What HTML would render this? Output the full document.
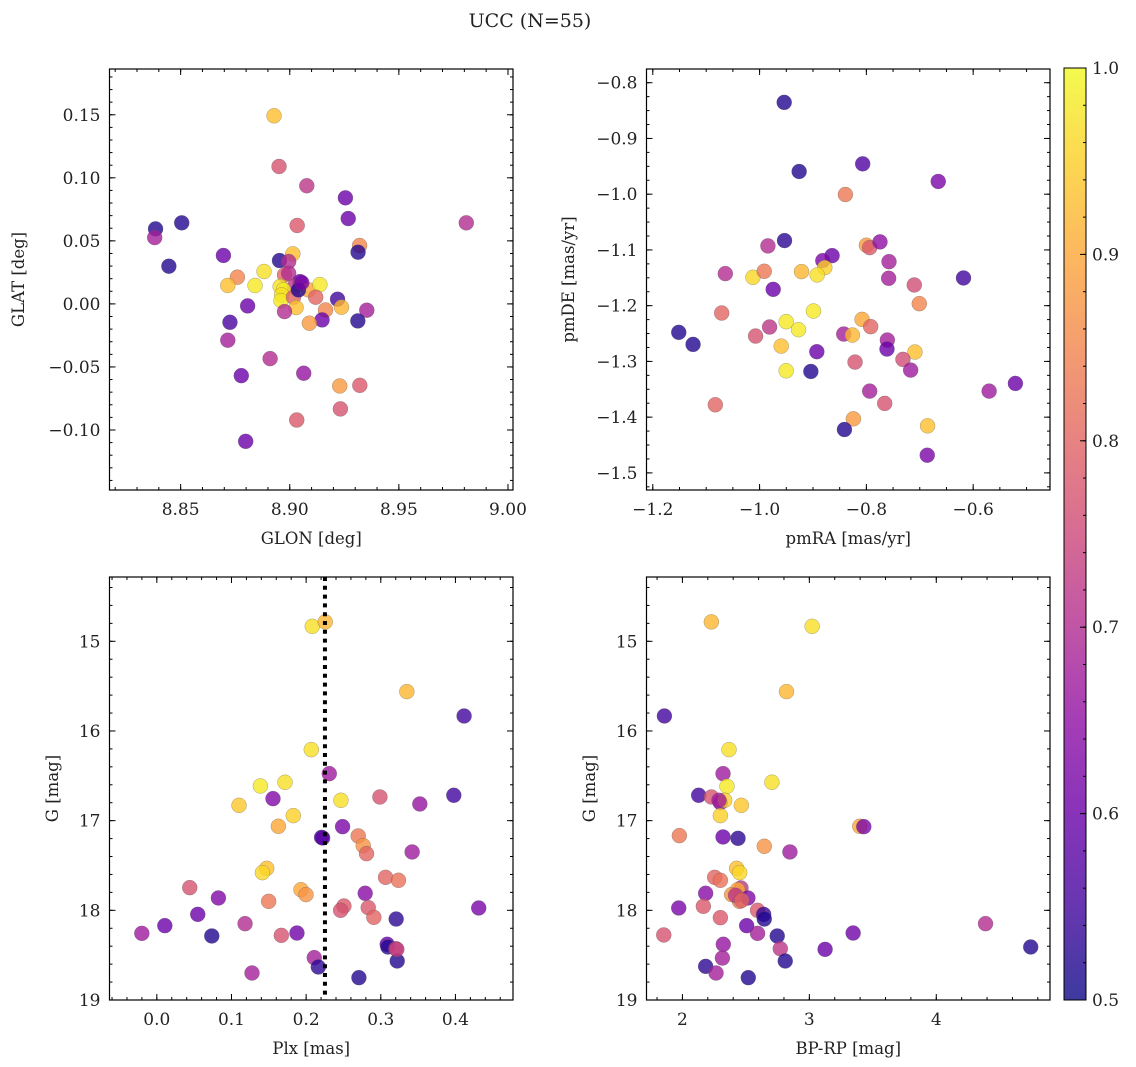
<!DOCTYPE html>
<html><head><meta charset="utf-8"><style>
html,body{margin:0;padding:0;background:#fff}
svg{display:block}
text{font-family:"DejaVu Serif","Liberation Serif",serif;fill:#222}
</style></head><body>
<svg id="fig" width="1136" height="1067" viewBox="0 0 1136 1067" xmlns="http://www.w3.org/2000/svg">
<defs>
<linearGradient id="plasmaGrad" x1="0" y1="1" x2="0" y2="0">
<stop offset="0" stop-color="#0d0887"/><stop offset="0.1" stop-color="#41049d"/><stop offset="0.2" stop-color="#6a00a8"/><stop offset="0.3" stop-color="#8f0da4"/><stop offset="0.4" stop-color="#b12a90"/><stop offset="0.5" stop-color="#cc4778"/><stop offset="0.6" stop-color="#e16462"/><stop offset="0.7" stop-color="#f2844b"/><stop offset="0.8" stop-color="#fca636"/><stop offset="0.9" stop-color="#fcce25"/><stop offset="1" stop-color="#f0f921"/>
</linearGradient>
</defs>
<text x="530" y="27" font-size="19" text-anchor="middle">UCC (N=55)</text>
</svg>
<script>
const glon=[8.8928,8.8951,8.9078,8.9255,8.9268,8.9809,8.8385,8.8505,8.8381,8.9034,8.8446,8.8696,8.8760,8.8716,8.8841,8.8882,8.9014,8.9320,8.9313,8.8953,8.8995,8.8976,8.8995,8.9047,8.9021,8.8956,8.8971,8.8963,8.8960,8.9017,8.9086,8.9138,8.9119,8.9219,8.9237,8.9029,8.9164,8.8976,8.9353,8.9148,8.9090,8.9312,8.8807,8.8726,8.8716,8.8910,8.8778,8.9064,8.9229,8.9321,8.9232,8.9032,8.8798,8.9040,8.9055];
const glat=[0.1492,0.1090,0.0937,0.0841,0.0677,0.0643,0.0595,0.0643,0.0526,0.0622,0.0299,0.0384,0.0212,0.0146,0.0146,0.0257,0.0397,0.0463,0.0410,0.0344,0.0336,0.0230,0.0243,0.0177,0.0138,0.0138,0.0111,0.0071,0.0026,0.0053,0.0111,0.0153,0.0053,0.0037,-0.0026,-0.0029,-0.0048,-0.0061,-0.0050,-0.0127,-0.0153,-0.0135,-0.0016,-0.0146,-0.0288,-0.0434,-0.0569,-0.0550,-0.0651,-0.0646,-0.0833,-0.0921,-0.1090,0.0111,0.0169];
const prob1=[0.93,0.77,0.72,0.6,0.6,0.7,0.52,0.52,0.68,0.78,0.52,0.6,0.85,0.93,0.98,0.97,0.93,0.85,0.52,0.52,0.7,0.8,0.7,0.6,0.72,0.97,0.98,0.97,0.98,0.8,0.9,0.98,0.8,0.55,0.92,0.93,0.85,0.7,0.68,0.6,0.88,0.52,0.6,0.56,0.68,0.7,0.6,0.66,0.88,0.78,0.77,0.78,0.6,0.52,0.62];

const pmra=[-0.9539,-0.9259,-0.8069,-0.6654,-0.8393,-0.9533,-0.9844,-0.8000,-0.7938,-0.7745,-0.8642,-0.8816,-0.8779,-0.7576,-1.0642,-1.0125,-0.9913,-0.9215,-0.8922,-0.7583,-0.6181,-0.9745,-0.7103,-0.7009,-1.0710,-0.8991,-0.9502,-0.9271,-0.8081,-0.7919,-0.9813,-1.0075,-0.8424,-0.8262,-1.1514,-1.1246,-0.9595,-0.8928,-0.7607,-0.7614,-0.7090,-0.7315,-0.8212,-0.7171,-0.9502,-0.9040,-0.5701,-0.5209,-0.7938,-0.7657,-1.0829,-0.8243,-0.8411,-0.6854,-0.6860];
const pmde=[-0.8353,-0.9593,-0.9455,-0.9772,-1.0006,-1.0832,-1.0928,-1.0916,-1.0958,-1.0856,-1.1102,-1.1192,-1.1317,-1.1210,-1.1425,-1.1491,-1.1383,-1.1389,-1.1449,-1.1509,-1.1503,-1.1707,-1.1629,-1.1964,-1.2132,-1.2096,-1.2287,-1.2431,-1.2246,-1.2377,-1.2383,-1.2545,-1.2509,-1.2527,-1.2479,-1.2695,-1.2725,-1.2826,-1.2617,-1.2778,-1.2832,-1.2964,-1.3012,-1.3156,-1.3168,-1.3180,-1.3533,-1.3395,-1.3533,-1.3754,-1.3778,-1.4030,-1.4222,-1.4156,-1.4683];
const prob2=[0.52,0.52,0.57,0.62,0.83,0.53,0.7,0.88,0.78,0.65,0.6,0.62,0.95,0.68,0.7,0.96,0.83,0.92,0.97,0.68,0.55,0.6,0.76,0.85,0.8,0.98,0.98,0.98,0.9,0.8,0.72,0.77,0.68,0.92,0.52,0.52,0.93,0.6,0.68,0.6,0.93,0.76,0.77,0.67,0.98,0.52,0.67,0.6,0.68,0.77,0.8,0.88,0.52,0.93,0.62];

const plx=[0.2082,0.2256,0.3349,0.4116,0.2069,0.2310,0.1387,0.1717,0.1556,0.1101,0.2466,0.2988,0.3978,0.3523,0.1828,0.1628,0.2488,0.2207,0.2221,0.2698,0.2765,0.2809,0.3420,0.1472,0.1414,0.3064,0.3237,0.0441,0.0825,0.1931,0.1998,0.1498,0.2791,0.2506,0.2462,0.2832,0.4312,0.0548,0.0107,-0.0201,0.0736,0.1182,0.1668,0.1877,0.2907,0.3206,0.3086,0.3095,0.3202,0.3220,0.2109,0.2163,0.1275,0.2707,0.3215];
const gmag3=[14.833,14.784,15.561,15.833,16.208,16.476,16.613,16.572,16.755,16.829,16.773,16.736,16.717,16.814,16.944,17.063,17.067,17.186,17.193,17.171,17.279,17.368,17.349,17.532,17.580,17.632,17.665,17.747,17.862,17.770,17.825,17.900,17.810,17.952,18.000,17.970,17.974,18.045,18.171,18.257,18.286,18.149,18.279,18.253,18.078,18.097,18.379,18.409,18.428,18.565,18.528,18.632,18.699,18.751,18.435];
const prob3=[0.97,0.92,0.92,0.55,0.97,0.67,0.98,0.97,0.63,0.94,0.97,0.77,0.55,0.66,0.95,0.9,0.62,0.55,0.58,0.83,0.87,0.8,0.67,0.93,0.96,0.8,0.82,0.77,0.63,0.9,0.87,0.83,0.64,0.78,0.77,0.78,0.62,0.6,0.6,0.67,0.52,0.7,0.77,0.61,0.8,0.53,0.6,0.52,0.72,0.52,0.68,0.53,0.68,0.52,0.74];
const plxCluster=[0.2252];

const bprp=[2.228,3.022,2.820,1.858,2.367,2.320,2.351,2.705,2.128,2.228,2.299,2.333,2.464,2.299,3.397,3.429,1.976,2.320,2.438,2.645,2.847,2.427,2.451,2.254,2.299,2.183,2.461,2.435,2.388,2.451,2.516,1.971,2.165,2.592,2.640,2.645,2.299,1.853,2.506,2.592,2.747,4.388,3.345,2.771,3.124,4.744,2.322,2.315,2.183,2.265,2.519,2.810,2.288,2.419,2.467];
const gmag4=[14.784,14.833,15.561,15.833,16.208,16.476,16.617,16.572,16.717,16.736,16.799,16.773,16.829,16.944,17.063,17.067,17.167,17.182,17.197,17.286,17.349,17.532,17.580,17.632,17.665,17.810,17.751,17.770,17.825,17.900,17.862,17.974,17.955,18.000,18.045,18.097,18.082,18.275,18.171,18.257,18.286,18.149,18.253,18.428,18.435,18.409,18.379,18.532,18.625,18.699,18.751,18.565,16.773,17.833,17.888];
const prob4=[0.92,0.97,0.92,0.55,0.97,0.67,0.98,0.97,0.55,0.77,0.63,0.95,0.94,0.95,0.9,0.62,0.83,0.6,0.53,0.87,0.67,0.93,0.96,0.8,0.82,0.64,0.72,0.9,0.87,0.83,0.63,0.62,0.78,0.78,0.54,0.52,0.78,0.77,0.6,0.68,0.52,0.7,0.61,0.72,0.6,0.52,0.66,0.68,0.53,0.68,0.52,0.52,0.68,0.72,0.8];

const cbTicks=[0.5,0.6,0.7,0.8,0.9,1.0];

const NS="http://www.w3.org/2000/svg";
const svg=document.getElementById('fig');
const stops=[[13,8,135],[65,4,157],[106,0,168],[143,13,164],[177,42,144],[204,71,120],[225,100,98],[242,132,75],[252,166,54],[252,206,37],[240,249,33]];
function plasma(t){t=Math.max(0,Math.min(1,t))*10;const i=Math.min(9,Math.floor(t)),f=t-i;const a=stops[i],b=stops[i+1];return 'rgb('+a.map((v,k)=>Math.round(v+(b[k]-v)*f)).join(',')+')';}
function el(tag,attrs,parent){const e=document.createElementNS(NS,tag);for(const k in attrs)e.setAttribute(k,attrs[k]);(parent||svg).appendChild(e);return e;}
function fmt(v,d){let s=v.toFixed(d);if(v<0)s='\u2212'+s.slice(1);return s;}
const TFS=17, LFS=16.5;

function panel(o){
  const g=el('g',{});
  
  
  const sx=v=>o.L+(v-o.x0)/(o.x1-o.x0)*(o.R-o.L);
  const sy=v=>o.B-(v-o.y0)/(o.y1-o.y0)*(o.B-o.T);
  const tg=el('g',{stroke:'#000','stroke-width':1},g);
  
  
  function xt(v,len){const x=sx(v);if(x<o.L-0.5||x>o.R+0.5)return;el('line',{x1:x,x2:x,y1:o.B,y2:o.B-len},tg);el('line',{x1:x,x2:x,y1:o.T,y2:o.T+len},tg);}
  function yt(v,len){const y=sy(v);if(y<o.T-0.5||y>o.B+0.5)return;el('line',{x1:o.L,x2:o.L+len,y1:y,y2:y},tg);el('line',{x1:o.R,x2:o.R-len,y1:y,y2:y},tg);}
  for(let v=Math.ceil(o.x0/o.xmin)*o.xmin;v<=o.x1;v+=o.xmin)xt(v,3);
  for(let v=Math.ceil(o.y0/o.ymin)*o.ymin;v<=o.y1;v+=o.ymin)yt(v,3);
  o.xticks.forEach(v=>{xt(v,6);const x=sx(v);const t=el('text',{x:x,y:o.B+25,'font-size':TFS,'text-anchor':'middle'},g);t.textContent=fmt(v,o.xd);
    
    });
  o.yticks.forEach(v=>{yt(v,6);const y=sy(v);const t=el('text',{x:o.L-9,y:y+6,'font-size':TFS,'text-anchor':'end'},g);t.textContent=fmt(v,o.yd);
    
    });
  const cp=el('clipPath',{id:o.name+'-clip'},g);el('rect',{x:o.L,y:o.T,width:o.R-o.L,height:o.B-o.T},cp);
  const pg=el('g',{'clip-path':'url(#'+o.name+'-clip)'},g);
  
  
  o.xs.forEach((xv,i)=>{
    const c=el('circle',{cx:sx(xv),cy:sy(o.ys[i]),r:7.5,fill:plasma((o.c[i]-0.5)/0.5),'fill-opacity':0.8,stroke:'#555','stroke-opacity':0.5,'stroke-width':0.5},pg);
    
    
  });
  if(o.vline){o.vline.forEach(v=>{const ln=el('line',{x1:sx(v),x2:sx(v),y1:o.T,y2:o.B,stroke:'#000','stroke-width':4,'stroke-dasharray':'4 4.8'},pg);
    
    });}
  const fr=el('rect',{x:o.L,y:o.T,width:o.R-o.L,height:o.B-o.T,fill:'none',stroke:'#000','stroke-width':1.2},g);
  
  
  const xl=el('text',{x:(o.L+o.R)/2,y:o.B+54,'font-size':LFS,'text-anchor':'middle'},g);xl.textContent=o.xlabel;
  
  
  const yx=o.ylx,yy=(o.T+o.B)/2;
  const yl=el('text',{x:yx,y:yy,'font-size':LFS,'text-anchor':'middle',transform:'rotate(-90 '+yx+' '+yy+')'},g);yl.textContent=o.ylabel;
  
  
}

panel({name:'glon-glat-panel',L:109.5,R:513,T:69,B:490,x0:8.8174,x1:9.0023,y0:-0.1476,y1:0.1863,xmin:0.01,ymin:0.01,
  xticks:[8.85,8.90,8.95,9.00],yticks:[-0.10,-0.05,0,0.05,0.10,0.15],xd:2,yd:2,xs:glon,ys:glat,c:prob1,xlabel:'GLON [deg]',ylabel:'GLAT [deg]',ylx:24});
panel({name:'pm-panel',L:646.5,R:1050,T:69,B:490,x0:-1.2118,x1:-0.4561,y0:-1.5307,y1:-0.7754,xmin:0.05,ymin:0.025,
  xticks:[-1.2,-1.0,-0.8,-0.6],yticks:[-1.5,-1.4,-1.3,-1.2,-1.1,-1.0,-0.9,-0.8],xd:1,yd:1,xs:pmra,ys:pmde,c:prob2,xlabel:'pmRA [mas/yr]',ylabel:'pmDE [mas/yr]',ylx:574});
panel({name:'plx-g-panel',L:109.5,R:513,T:577,B:1000,x0:-0.0634,x1:0.4771,y0:-19.0,y1:-14.283,xmin:0.02,ymin:0.2,
  xticks:[0,0.1,0.2,0.3,0.4],yticks:[],xd:1,yd:0,xs:plx,ys:gmag3.map(v=>-v),c:prob3,vline:plxCluster,xlabel:'Plx [mas]',ylabel:'G [mag]',ylx:58});
panel({name:'cmd-panel',L:646.5,R:1050,T:577,B:1000,x0:1.717,x1:4.896,y0:-19.0,y1:-14.283,xmin:0.2,ymin:0.2,
  xticks:[2,3,4],yticks:[],xd:0,yd:0,xs:bprp,ys:gmag4.map(v=>-v),c:prob4,xlabel:'BP-RP [mag]',ylabel:'G [mag]',ylx:595});

function magLabels(L,R){
  [15,16,17,18,19].forEach(v=>{
    const y=577+(v-14.283)/(19.0-14.283)*(1000-577);
    el('line',{x1:L,x2:L+6,y1:y,y2:y,stroke:'#000'});el('line',{x1:R,x2:R-6,y1:y,y2:y,stroke:'#000'});
    const t=el('text',{x:L-9,y:y+6,'font-size':TFS,'text-anchor':'end'});t.textContent=String(v);
    
    
  });
}
magLabels(109.5,513);magLabels(646.5,1050);

const cbL=1064,cbR=1086,cbT=68,cbB=1000;
const cb=el('rect',{x:cbL,y:cbT,width:cbR-cbL,height:cbB-cbT,fill:'url(#plasmaGrad)','fill-opacity':0.8,stroke:'#000','stroke-width':1});


const cy=v=>cbB-(v-0.5)/0.5*(cbB-cbT);
for(let v=0.5;v<=1.0001;v+=0.02){el('line',{x1:cbR,x2:cbR-3,y1:cy(v),y2:cy(v),stroke:'#000'});}
cbTicks.forEach(v=>{el('line',{x1:cbR,x2:cbR-6,y1:cy(v),y2:cy(v),stroke:'#000'});
  const t=el('text',{x:cbR+6,y:cy(v)+6,'font-size':TFS},svg);t.textContent=v.toFixed(1);
  
  });
</script>
</body></html>
